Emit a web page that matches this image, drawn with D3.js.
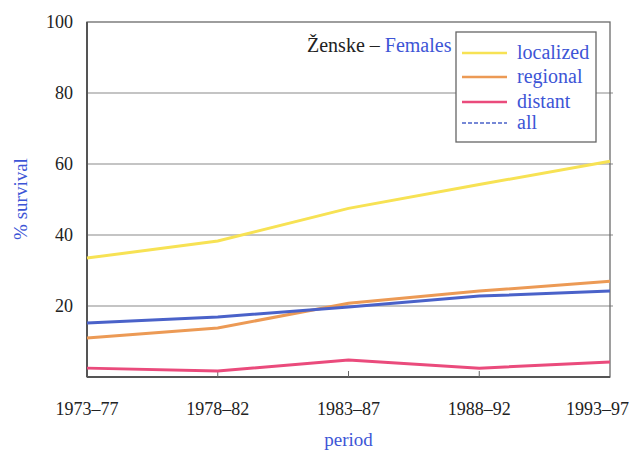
<!DOCTYPE html>
<html><head><meta charset="utf-8">
<script src="https://cdn.jsdelivr.net/npm/d3@7"></script>
<style>body{margin:0;background:#fff}svg{display:block}</style>
</head><body>
<script>
const periods = ["1973–77","1978–82","1983–87","1988–92","1993–97"];
const localized = [33.5, 38.3, 47.5, 54.2, 60.8];
const regional = [11.0, 13.8, 20.8, 24.2, 27.0];
const distant = [2.5, 1.7, 4.8, 2.5, 4.2];
const all = [15.2, 16.9, 19.7, 22.8, 24.2];
const yTicks = [20, 40, 60, 80, 100];
const seriesNames = ["localized","regional","distant","all"];
const seriesColors = ["#f7e254","#ec9a55","#ea4b7c","#4a62c9"];

const W=633,H=452, m={l:87,r:23,t:22,b:75};
const FF="'Liberation Serif','DejaVu Serif',serif";
const svg=d3.select("body").append("svg").attr("width",W).attr("height",H).attr("font-family",FF);
const x=d3.scalePoint().domain(periods).range([m.l,W-m.r]);
const y=d3.scaleLinear().domain([0,100]).range([H-m.b,m.t]);

// grid
svg.append("g").selectAll("line").data(yTicks.filter(d=>d<100)).join("line")
 .attr("x1",m.l).attr("x2",W-m.r+3).attr("y1",d=>y(d)).attr("y2",d=>y(d))
 .attr("stroke","#8a8a8a").attr("stroke-width",1.2);
// frame
svg.append("rect").attr("x",m.l).attr("y",m.t).attr("width",W-m.l-m.r).attr("height",H-m.t-m.b)
 .attr("fill","none").attr("stroke","#6a6a6a").attr("stroke-width",1.3);
svg.append("line").attr("x1",m.l).attr("x2",m.l).attr("y1",m.t).attr("y2",H-m.b).attr("stroke","#555").attr("stroke-width",2);
svg.append("line").attr("x1",m.l).attr("x2",W-m.r).attr("y1",H-m.b).attr("y2",H-m.b).attr("stroke","#555").attr("stroke-width",2);

// y axis labels
svg.append("g").selectAll("text").data(yTicks).join("text")
 .attr("x",m.l-14).attr("y",d=>y(d)+6).attr("text-anchor","end")
 .attr("font-size",18).attr("fill","#222").text(d=>d);
// x axis ticks and labels
const xa=svg.append("g");
xa.selectAll("line").data(periods.slice(1,-1)).join("line")
 .attr("x1",d=>x(d)).attr("x2",d=>x(d)).attr("y1",H-m.b).attr("y2",H-m.b-6).attr("stroke","#666");
xa.selectAll("text").data(periods).join("text")
 .attr("x",(d,i)=>i===periods.length-1?W-4:x(d)).attr("y",H-m.b+38)
 .attr("text-anchor",(d,i)=>i===periods.length-1?"end":"middle")
 .attr("font-size",18).attr("fill","#222").text(d=>d);

// axis titles
svg.append("text").attr("x",x(periods[2])).attr("y",446).attr("text-anchor","middle")
 .attr("font-size",19).attr("fill","#3d55d6").text("period");
svg.append("text").attr("transform",`translate(27,199) rotate(-90)`).attr("text-anchor","middle")
 .attr("font-size",19).attr("fill","#3d55d6").text("% survival");

// lines
const data=[localized,regional,distant,all];
const line=d3.line().x((d,i)=>x(periods[i])).y(d=>y(d));
[1,2,3,0].forEach(k=>{
 svg.append("path").datum(data[k]).attr("d",line).attr("fill","none")
  .attr("stroke",seriesColors[k]).attr("stroke-width",3);
});

// chart title
const t=svg.append("text").attr("x",307).attr("y",52).attr("font-size",20);
t.append("tspan").attr("fill","#222").text("Ženske – ");
t.append("tspan").attr("fill","#3d55d6").text("Females");

// legend
const lg=svg.append("g");
lg.append("rect").attr("x",456).attr("y",32).attr("width",140).attr("height",110)
 .attr("fill","#fff").attr("stroke","#666").attr("stroke-width",1.3);
const ly=[53,77,102,123];
seriesNames.forEach((n,i)=>{
 const yy=ly[i];
 lg.append("line").attr("x1",462).attr("x2",507).attr("y1",yy).attr("y2",yy)
  .attr("stroke",seriesColors[i]).attr("stroke-width",i==3?1.5:2.5)
  .attr("stroke-dasharray",i==3?"4,2":null);
 lg.append("text").attr("x",517).attr("y",yy+6).attr("font-size",20).attr("fill","#3d55d6").text(n);
});
</script>
</body></html>
